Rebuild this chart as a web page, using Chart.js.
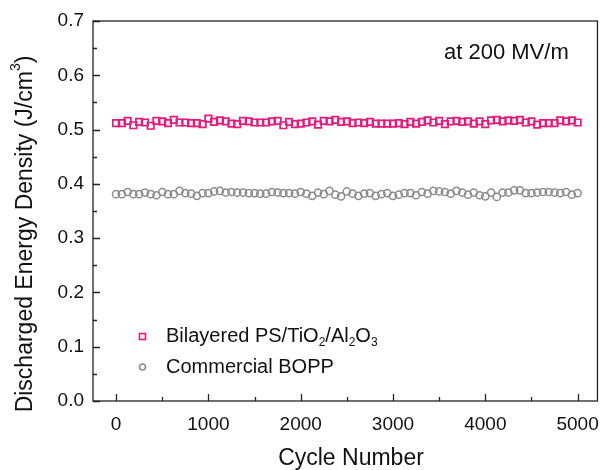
<!DOCTYPE html>
<html>
<head>
<meta charset="utf-8">
<script src="https://cdn.jsdelivr.net/npm/chart.js@4/dist/chart.umd.min.js"></script>
<style>
  html, body { margin: 0; padding: 0; background: #fff; }
  #wrap { width: 611px; height: 470px; }
</style>
</head>
<body>
<div id="wrap"><canvas id="graphic" width="611" height="470"></canvas></div>
<script>
const cycles = [0, 62.5, 125, 187.5, 250, 312.5, 375, 437.5, 500, 562.5, 625, 687.5, 750, 812.5, 875, 937.5,
  1000, 1062.5, 1125, 1187.5, 1250, 1312.5, 1375, 1437.5, 1500, 1562.5, 1625, 1687.5, 1750, 1812.5, 1875, 1937.5,
  2000, 2062.5, 2125, 2187.5, 2250, 2312.5, 2375, 2437.5, 2500, 2562.5, 2625, 2687.5, 2750, 2812.5, 2875, 2937.5,
  3000, 3062.5, 3125, 3187.5, 3250, 3312.5, 3375, 3437.5, 3500, 3562.5, 3625, 3687.5, 3750, 3812.5, 3875, 3937.5,
  4000, 4062.5, 4125, 4187.5, 4250, 4312.5, 4375, 4437.5, 4500, 4562.5, 4625, 4687.5, 4750, 4812.5, 4875, 4937.5, 5000];

const bilayered = [0.512, 0.512, 0.516, 0.508, 0.514, 0.513, 0.507, 0.516, 0.515, 0.512, 0.518, 0.513, 0.513, 0.512, 0.512, 0.510,
  0.520, 0.514, 0.517, 0.515, 0.511, 0.510, 0.516, 0.515, 0.513, 0.513, 0.513, 0.515, 0.516, 0.508, 0.514, 0.510,
  0.511, 0.513, 0.515, 0.509, 0.516, 0.515, 0.518, 0.514, 0.515, 0.512, 0.513, 0.512, 0.514, 0.511, 0.511, 0.511,
  0.511, 0.512, 0.510, 0.514, 0.511, 0.514, 0.517, 0.513, 0.516, 0.510, 0.515, 0.516, 0.514, 0.515, 0.511, 0.515,
  0.510, 0.517, 0.518, 0.515, 0.517, 0.516, 0.518, 0.513, 0.515, 0.509, 0.512, 0.512, 0.512, 0.517, 0.515, 0.517, 0.513];

const bopp = [0.381, 0.381, 0.385, 0.381, 0.381, 0.384, 0.381, 0.379, 0.385, 0.381, 0.381, 0.387, 0.383, 0.382, 0.378, 0.383,
  0.383, 0.386, 0.387, 0.384, 0.385, 0.384, 0.384, 0.383, 0.383, 0.382, 0.382, 0.385, 0.384, 0.383, 0.383, 0.382,
  0.385, 0.382, 0.378, 0.384, 0.381, 0.387, 0.380, 0.377, 0.386, 0.382, 0.378, 0.382, 0.383, 0.378, 0.381, 0.383,
  0.378, 0.380, 0.383, 0.383, 0.379, 0.385, 0.382, 0.387, 0.386, 0.385, 0.382, 0.387, 0.384, 0.380, 0.384, 0.379,
  0.377, 0.384, 0.376, 0.384, 0.384, 0.388, 0.388, 0.383, 0.383, 0.384, 0.385, 0.385, 0.384, 0.383, 0.385, 0.380, 0.383];

const xTicks = [0, 1000, 2000, 3000, 4000, 5000];
const yTicks = [0, 0.1, 0.2, 0.3, 0.4, 0.5, 0.6, 0.7];

const PINK = "#e8197d";
const GREY = "#8c8c8c";
const FONT = "'Liberation Sans', Arial, sans-serif";

// draw runs of text with sub/superscripts
function drawRuns(ctx, runs, x, y, size) {
  let cx = x;
  runs.forEach(r => {
    const s = r.sub || r.sup ? Math.round(size * 0.62) : size;
    ctx.font = s + "px " + FONT;
    const dy = r.sub ? size * 0.32 : r.sup ? -size * 0.42 : 0;
    ctx.fillText(r.t, cx, y + dy);
    cx += ctx.measureText(r.t).width;
  });
  return cx - x;
}
function runsWidth(ctx, runs, size) {
  let w = 0;
  runs.forEach(r => {
    const s = r.sub || r.sup ? Math.round(size * 0.62) : size;
    ctx.font = s + "px " + FONT;
    w += ctx.measureText(r.t).width;
  });
  return w;
}

const frame = {
  id: "frame",
  afterDraw(chart) {
    const { ctx, chartArea: a, scales: { x, y } } = chart;
    ctx.save();
    ctx.strokeStyle = "#222";
    ctx.lineWidth = 1.3;
    ctx.strokeRect(a.left, a.top, a.right - a.left, a.bottom - a.top);

    // inward ticks
    ctx.beginPath();
    for (let v = 0; v <= 5000; v += 500) {
      const px = Math.round(x.getPixelForValue(v)) + 0.5;
      const len = v % 1000 === 0 ? 7 : 4;
      ctx.moveTo(px, a.bottom);
      ctx.lineTo(px, a.bottom - len);
    }
    for (let i = 0; i <= 14; i++) {
      const py = Math.round(y.getPixelForValue(i * 0.05)) + 0.5;
      const len = i % 2 === 0 ? 7 : 4;
      ctx.moveTo(a.left, py);
      ctx.lineTo(a.left + len, py);
    }
    ctx.stroke();

    ctx.fillStyle = "#111";
    ctx.textBaseline = "middle";

    // x title
    ctx.font = "23px " + FONT;
    ctx.textAlign = "center";
    ctx.fillText("Cycle Number", 351, 459);

    // y title
    ctx.save();
    ctx.translate(26, 234);
    ctx.rotate(-Math.PI / 2);
    ctx.textAlign = "left";
    const yRuns = [{ t: "Discharged Energy Density (J/cm" }, { t: "3", sup: true }, { t: ")" }];
    const yw = runsWidth(ctx, yRuns, 23);
    drawRuns(ctx, yRuns, -yw / 2, 0, 23);
    ctx.restore();

    // annotation
    ctx.textAlign = "left";
    ctx.font = "22px " + FONT;
    ctx.fillText("at 200 MV/m", 444, 53);

    // legend
    ctx.lineWidth = 1.6;
    ctx.strokeStyle = PINK;
    ctx.strokeRect(139.5, 333.5, 6, 6);
    ctx.strokeStyle = GREY;
    ctx.beginPath();
    ctx.arc(142.5, 367, 3, 0, Math.PI * 2);
    ctx.stroke();
    drawRuns(ctx, [{ t: "Bilayered PS/TiO" }, { t: "2", sub: true }, { t: "/Al" }, { t: "2", sub: true }, { t: "O" }, { t: "3", sub: true }], 166, 336, 20);
    drawRuns(ctx, [{ t: "Commercial BOPP" }], 166, 367, 20);
    ctx.restore();
  }
};

new Chart(document.getElementById("graphic").getContext("2d"), {
  type: "scatter",
  data: {
    datasets: [
      {
        label: "Bilayered PS/TiO2/Al2O3",
        data: cycles.map((c, i) => ({ x: c, y: bilayered[i] })),
        pointStyle: "rect",
        pointRadius: 4.6,
        pointBorderWidth: 1.7,
        borderColor: PINK,
        backgroundColor: "rgba(255,255,255,0)"
      },
      {
        label: "Commercial BOPP",
        data: cycles.map((c, i) => ({ x: c, y: bopp[i] })),
        pointStyle: "circle",
        pointRadius: 3.6,
        pointBorderWidth: 1.5,
        borderColor: GREY,
        backgroundColor: "rgba(255,255,255,0)"
      }
    ]
  },
  options: {
    responsive: false,
    animation: false,
    layout: { padding: { top: 21, right: 3, left: 0, bottom: 0 } },
    plugins: { legend: { display: false }, tooltip: { enabled: false } },
    scales: {
      x: {
        type: "linear",
        min: -250,
        max: 5215,
        afterBuildTicks: s => { s.ticks = xTicks.map(v => ({ value: v })); },
        afterFit: s => { s.height = 69; },
        grid: { display: false, drawTicks: false },
        border: { display: false },
        ticks: { padding: 12, color: "#111", font: { family: FONT, size: 19 }, maxRotation: 0, callback: v => String(v) }
      },
      y: {
        min: 0,
        max: 0.7,
        afterBuildTicks: s => { s.ticks = yTicks.map(v => ({ value: v })); },
        afterFit: s => { s.width = 93; },
        grid: { display: false, drawTicks: false },
        border: { display: false },
        ticks: { padding: 9, color: "#111", font: { family: FONT, size: 19 }, callback: v => v.toFixed(1) }
      }
    }
  },
  plugins: [frame]
});
</script>
</body>
</html>
